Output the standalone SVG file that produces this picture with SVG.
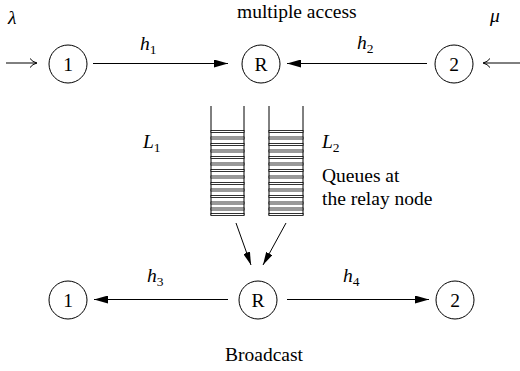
<svg xmlns="http://www.w3.org/2000/svg" width="520" height="371" viewBox="0 0 520 371">
<style>
text{font-family:"Liberation Serif","Times New Roman","DejaVu Serif",serif;font-size:19.5px;fill:#000}
.m{font-style:italic}
.s{font-size:13.5px;font-style:normal}
.c{text-anchor:middle}
.n circle{fill:#fff;stroke:#000;stroke-width:1}
.e{stroke:#000;stroke-width:1;fill:none}
.q line{stroke:#000;stroke-width:1}
.q rect{fill:#fff;stroke:#000;stroke-width:0.8}
</style>
<defs>
<marker id="a" viewBox="0 0 14 8" refX="14" refY="4" markerWidth="14" markerHeight="8" markerUnits="userSpaceOnUse" orient="auto">
<path d="M0,0 L14,4 L0,8 z" fill="#000"/>
</marker>
<marker id="b" viewBox="0 0 13 7" refX="13" refY="3.5" markerWidth="13" markerHeight="7" markerUnits="userSpaceOnUse" orient="auto">
<path d="M0,0 L13,3.5 L0,7 z" fill="#000"/>
</marker>
</defs>

<g font-family="Liberation Serif, Times New Roman, serif">
<g id="node-1-top" class="n"><circle cx="68" cy="64" r="19"/><text class="c" x="68" y="71">1</text></g>
<g id="node-R-top" class="n"><circle cx="261" cy="64" r="19"/><text class="c" x="261" y="71">R</text></g>
<g id="node-2-top" class="n"><circle cx="454" cy="64" r="19"/><text class="c" x="454" y="71">2</text></g>
<g id="node-1-bot" class="n"><circle cx="68" cy="300" r="19"/><text class="c" x="68" y="307">1</text></g>
<g id="node-R-bot" class="n"><circle cx="258" cy="300" r="19"/><text class="c" x="258" y="307">R</text></g>
<g id="node-2-bot" class="n"><circle cx="455" cy="300" r="19"/><text class="c" x="455" y="307">2</text></g>

<g id="queue-1" class="q">
<line x1="211" y1="106" x2="211" y2="215.5"/>
<line x1="244" y1="106" x2="244" y2="215.5"/>
<rect x="211" y="130.5" width="33" height="2"/><rect x="211" y="137" width="33" height="2"/><rect x="211" y="143.5" width="33" height="2"/><rect x="211" y="150" width="33" height="2"/><rect x="211" y="156.5" width="33" height="2"/><rect x="211" y="163" width="33" height="2"/><rect x="211" y="169.5" width="33" height="2"/><rect x="211" y="176" width="33" height="2"/><rect x="211" y="182.5" width="33" height="2"/><rect x="211" y="189" width="33" height="2"/><rect x="211" y="195.5" width="33" height="2"/><rect x="211" y="202" width="33" height="2"/><rect x="211" y="208" width="33" height="2"/><rect x="211" y="213.5" width="33" height="2"/>
</g>
<g id="queue-2" class="q">
<line x1="269" y1="106" x2="269" y2="215.5"/>
<line x1="303" y1="106" x2="303" y2="215.5"/>
<rect x="269" y="130.5" width="34" height="2"/><rect x="269" y="137" width="34" height="2"/><rect x="269" y="143.5" width="34" height="2"/><rect x="269" y="150" width="34" height="2"/><rect x="269" y="156.5" width="34" height="2"/><rect x="269" y="163" width="34" height="2"/><rect x="269" y="169.5" width="34" height="2"/><rect x="269" y="176" width="34" height="2"/><rect x="269" y="182.5" width="34" height="2"/><rect x="269" y="189" width="34" height="2"/><rect x="269" y="195.5" width="34" height="2"/><rect x="269" y="202" width="34" height="2"/><rect x="269" y="208" width="34" height="2"/><rect x="269" y="213.5" width="34" height="2"/>
</g>

<g id="connectors" class="e">
<path d="M6,63 H36.5"/>
<path d="M30,58.5 Q32.5,62 37,63 Q32.5,64 30,67.5"/>
<path d="M520,63 H483.5"/>
<path d="M490,58.5 Q487.5,62 483,63 Q487.5,64 490,67.5"/>
<line x1="93" y1="63.5" x2="228" y2="63.5" marker-end="url(#a)"/>
<line x1="427" y1="63.5" x2="287" y2="63.5" marker-end="url(#a)"/>
<line x1="236" y1="223" x2="251" y2="265" marker-end="url(#b)"/>
<line x1="286" y1="223" x2="263" y2="265" marker-end="url(#b)"/>
<line x1="228" y1="299.5" x2="94" y2="299.5" marker-end="url(#a)"/>
<line x1="287" y1="299.5" x2="429" y2="299.5" marker-end="url(#a)"/>
</g>

<g id="labels">
<text x="237" y="18">multiple access</text>
<text class="m" x="8" y="24">λ</text>
<text class="m" x="490" y="22">μ</text>
<text class="m" x="140" y="50">h<tspan class="s" dy="4">1</tspan></text>
<text class="m" x="357" y="49">h<tspan class="s" dy="4">2</tspan></text>
<text class="m" x="143" y="148">L<tspan class="s" dy="4">1</tspan></text>
<text class="m" x="322" y="148">L<tspan class="s" dy="4">2</tspan></text>
<text x="322" y="182">Queues at</text>
<text x="322" y="205">the relay node</text>
<text class="m" x="147" y="282">h<tspan class="s" dy="4">3</tspan></text>
<text class="m" x="343" y="282">h<tspan class="s" dy="4">4</tspan></text>
<text x="225" y="361">Broadcast</text>
</g>
</g>
</svg>
